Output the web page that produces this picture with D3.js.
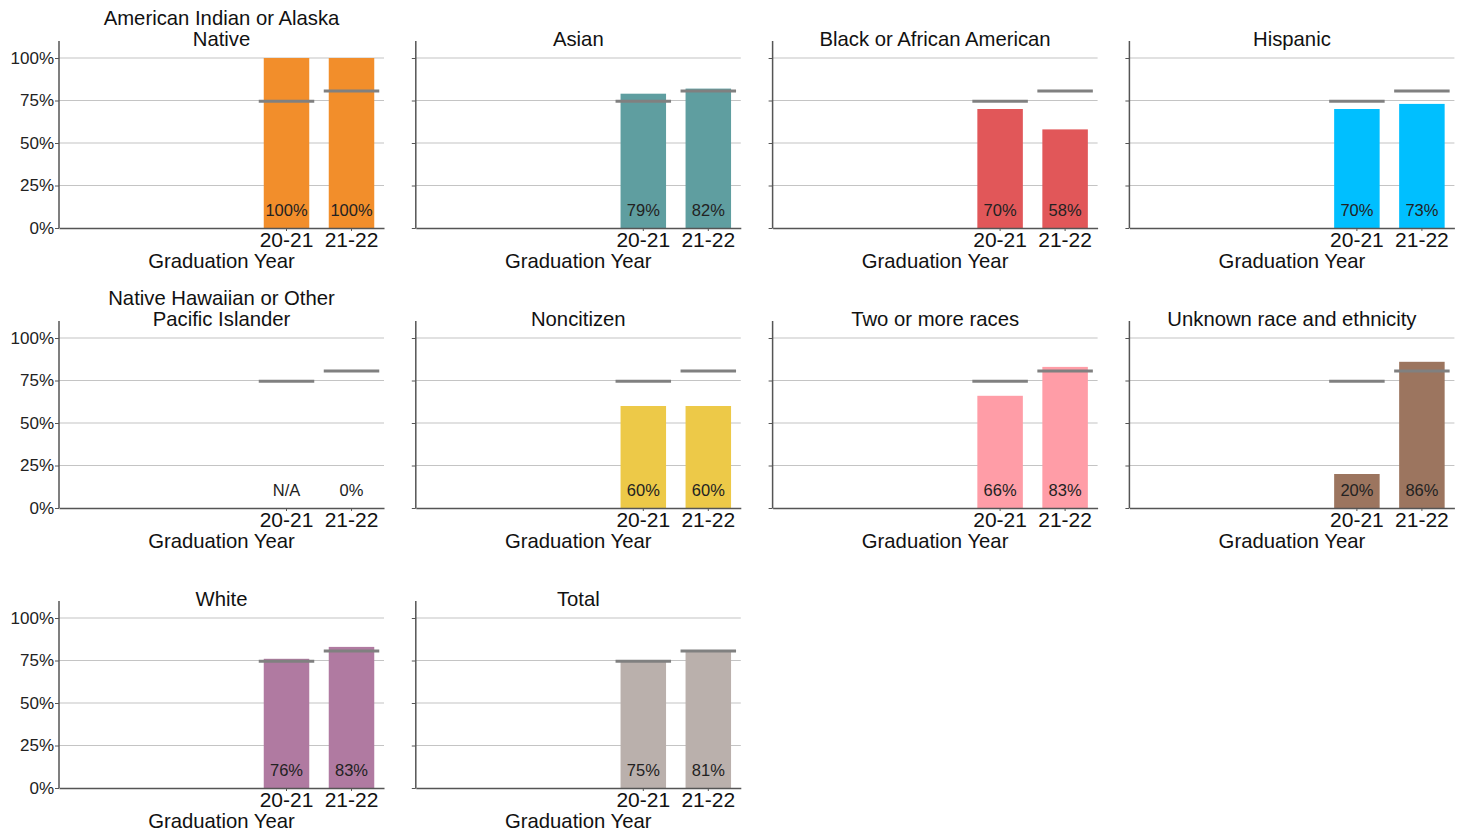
<!DOCTYPE html>
<html lang="en">
<head>
    <meta charset="UTF-8">
    <title>Graduation rate by race and ethnicity</title>
    <script src="https://d3js.org/d3.v7.min.js"></script>
    <style>
        body { margin: 0; background: #fff; }
        text { font-family: "Liberation Sans", Arial, sans-serif; }
    </style>
</head>
<body>
<script>
// data
var groups = ["American Indian or Alaska Native", "Asian", "Black or African American", "Hispanic",
    "Native Hawaiian or Other Pacific Islander", "Noncitizen", "Two or more races", "Unknown race and ethnicity",
    "White", "Total"];
var titleLines = [["American Indian or Alaska", "Native"], ["Asian"], ["Black or African American"], ["Hispanic"],
    ["Native Hawaiian or Other", "Pacific Islander"], ["Noncitizen"], ["Two or more races"], ["Unknown race and ethnicity"],
    ["White"], ["Total"]];
var years = ["17-18", "18-19", "19-20", "20-21", "21-22"];
var shownYears = ["20-21", "21-22"];
var rate2021 = [100, 79, 70, 70, null, 60, 66, 20, 76, 75];
var rate2122 = [100, 82, 58, 73, 0, 60, 83, 86, 83, 81];
var target = [74.5, 80.6];
var colors = ["#F28E2B", "#5F9EA0", "#E15759", "#00BFFF", "#999999", "#EDC948", "#FF9DA7", "#9C755F", "#B07AA1", "#BAB0AC"];
var yTicks = [0, 25, 50, 75, 100];

var W = 1466, H = 834;
var svg = d3.select("body").append("svg").attr("width", W).attr("height", H);

var colW = 356.8, rowH = 280;
var plotW = 325, x0 = 59, yTop = 58, yBase = 228;

var x = d3.scaleBand().domain(years).range([0, plotW]).paddingInner(0.3).paddingOuter(0.15);
var y = d3.scaleLinear().domain([0, 100]).range([yBase - yTop, 0]);

groups.forEach(function(g, i) {
    var col = i % 4, row = Math.floor(i / 4);
    var p = svg.append("g").attr("transform", "translate(" + (x0 + col * colW) + "," + (yTop + row * rowH) + ")");

    // gridlines
    p.selectAll("line.grid").data(yTicks.slice(1)).enter().append("line")
        .attr("x1", 0).attr("x2", plotW)
        .attr("y1", function(d) { return y(d); }).attr("y2", function(d) { return y(d); })
        .attr("stroke", "#c4c4c4").attr("stroke-width", 1.2);

    // bars
    var vals = [
        {year: "20-21", v: rate2021[i]},
        {year: "21-22", v: rate2122[i]}
    ];
    p.selectAll("rect").data(vals.filter(function(d) { return d.v != null && d.v > 0; })).enter().append("rect")
        .attr("x", function(d) { return x(d.year); })
        .attr("width", x.bandwidth())
        .attr("y", function(d) { return y(d.v); })
        .attr("height", function(d) { return y(0) - y(d.v); })
        .attr("fill", colors[i]);

    // targets
    var ext = 5;
    p.selectAll("line.target").data(shownYears).enter().append("line")
        .attr("x1", function(d) { return x(d) - ext; })
        .attr("x2", function(d) { return x(d) + x.bandwidth() + ext; })
        .attr("y1", function(d, j) { return y(target[j]); })
        .attr("y2", function(d, j) { return y(target[j]); })
        .attr("stroke", "#808080").attr("stroke-width", 3);

    // value labels
    p.selectAll("text.val").data(vals).enter().append("text")
        .attr("x", function(d) { return x(d.year) + x.bandwidth() / 2; })
        .attr("y", y(0) - 12)
        .attr("text-anchor", "middle")
        .attr("font-size", 16.5)
        .attr("fill", "#222")
        .text(function(d) { return d.v == null ? "N/A" : d.v + "%"; });

    // y axis
    var yAxis = p.append("g").call(d3.axisLeft(y).tickValues(yTicks).tickSize(4).tickFormat(function(d) { return d + "%"; }));
    yAxis.select(".domain").remove();
    yAxis.selectAll("text").attr("font-size", 17).attr("fill", "#222").attr("x", -5).attr("font-family", "Liberation Sans, Arial, sans-serif");
    yAxis.selectAll(".tick line").attr("stroke", "#555");
    if (col > 0) yAxis.selectAll("text").remove();
    p.append("line").attr("x1", 0).attr("x2", 0).attr("y1", -17).attr("y2", y(0))
        .attr("stroke", "#555").attr("stroke-width", 1.5);

    // x axis
    var xAxis = p.append("g").attr("transform", "translate(0," + y(0) + ")")
        .call(d3.axisBottom(x).tickValues(shownYears).tickSize(3).tickSizeOuter(0));
    xAxis.select(".domain").attr("stroke", "#555").attr("stroke-width", 1.5);
    xAxis.selectAll(".tick line").attr("stroke", "#555");
    xAxis.selectAll("text").attr("font-size", 21).attr("fill", "#111").attr("dy", "0.62em")
        .attr("font-family", "Liberation Sans, Arial, sans-serif");

    p.append("text").attr("x", plotW / 2).attr("y", y(0) + 40)
        .attr("text-anchor", "middle").attr("font-size", 20.3).attr("fill", "#111")
        .text("Graduation Year");

    // title
    var lines = titleLines[i];
    p.append("text").attr("text-anchor", "middle").attr("font-size", 20.3).attr("fill", "#111")
        .selectAll("tspan").data(lines).enter().append("tspan")
        .attr("x", plotW / 2)
        .attr("y", function(d, j) { return -12 - (lines.length - 1 - j) * 21; })
        .text(function(d) { return d; });
});
</script>
</body>
</html>
